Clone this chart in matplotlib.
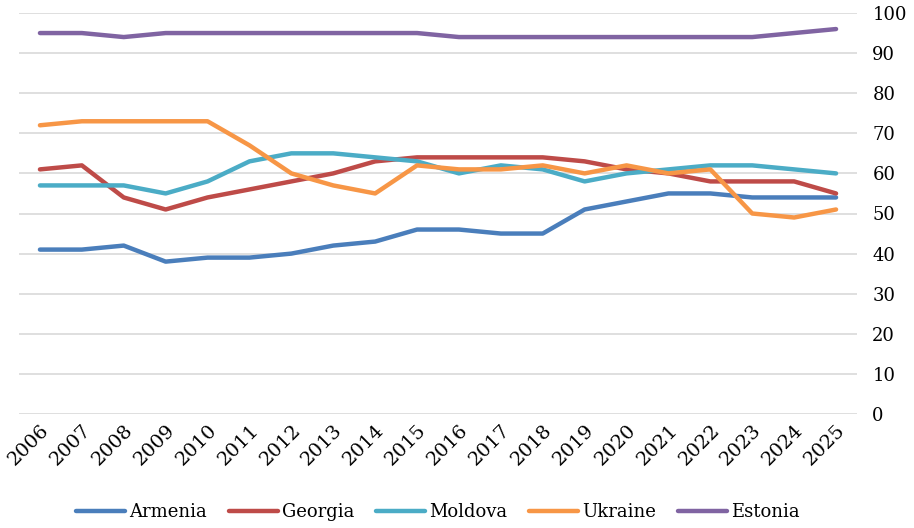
import numpy as np
import matplotlib
matplotlib.use("Agg")
from matplotlib import pyplot as plt

years = [str(y) for y in range(2006, 2026)]

armenia = [41, 41, 42, 38, 39, 39, 40, 42, 43, 46, 46, 45, 45, 51, 53, 55, 55, 54, 54, 54]
georgia = [61, 62, 54, 51, 54, 56, 58, 60, 63, 64, 64, 64, 64, 63, 61, 60, 58, 58, 58, 55]
moldova = [57, 57, 57, 55, 58, 63, 65, 65, 64, 63, 60, 62, 61, 58, 60, 61, 62, 62, 61, 60]
ukraine = [72, 73, 73, 73, 73, 67, 60, 57, 55, 62, 61, 61, 62, 60, 62, 60, 61, 50, 49, 51]
estonia = [95, 95, 94, 95, 95, 95, 95, 95, 95, 95, 94, 94, 94, 94, 94, 94, 94, 94, 95, 96]

series = [
    ("Armenia", armenia, "#4A7EBB"),
    ("Georgia", georgia, "#BE4B48"),
    ("Moldova", moldova, "#4BACC6"),
    ("Ukraine", ukraine, "#F79646"),
    ("Estonia", estonia, "#8064A2"),
]

plt.rcParams["font.family"] = ["DejaVu Serif"]

fig = plt.figure(figsize=(9.14, 5.28), dpi=100)
ax = fig.add_axes([19 / 914, 1 - 414 / 528, (857 - 19) / 914, (414 - 13) / 528])

x = np.arange(len(years))
for name, vals, col in series:
    ax.plot(x, vals, color=col, lw=3.2, label=name, solid_capstyle="round", solid_joinstyle="round")

ax.set_xlim(-0.5, len(years) - 0.5)
ax.set_ylim(0, 100)
ax.set_yticks(range(0, 101, 10))
ax.yaxis.tick_right()
ax.grid(axis="y", color="#D9D9D9", lw=1.2)
ax.set_axisbelow(True)
for s in ax.spines.values():
    s.set_visible(False)
ax.tick_params(axis="y", length=0, pad=11, labelsize=13)
ax.tick_params(axis="x", length=0, pad=5, labelsize=14)
ax.set_xticks(x)
ax.set_xticklabels(years, rotation=45, ha="right", rotation_mode="anchor")
for lab in ax.get_yticklabels():
    lab.set_horizontalalignment("left")

ax.legend(loc="center", bbox_to_anchor=(0.5, -0.245), ncol=5, frameon=False,
          fontsize=13, handlelength=2.7, columnspacing=1.2, handletextpad=0.25)

fig.savefig("out.png", dpi=100)
